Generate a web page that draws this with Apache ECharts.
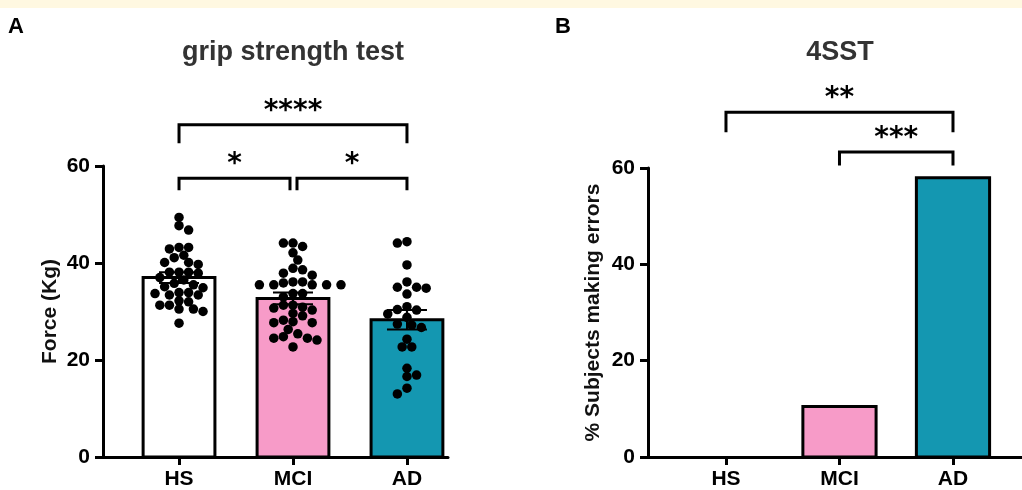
<!DOCTYPE html>
<html><head><meta charset="utf-8">
<script src="https://cdn.jsdelivr.net/npm/echarts@6/dist/echarts.min.js"></script>
<style>html,body{margin:0;padding:0;background:#fff;}#c{width:1022px;height:490px;}</style>
</head><body><div id="c"></div>
<script>
// ---------- data ----------
const categories = ['HS', 'MCI', 'AD'];
const gripHS = [49.4,47.7,46.8,43.2,43.2,42.9,41.6,41.1,40.1,40.1,39.7,38.1,38.1,37.9,38.1,37.0,35.5,36.5,35.8,34.9,35.1,33.4,33.7,33.9,33.4,32.0,32.2,31.3,31.3,30.5,30.0,30.5,27.6,33.9];
const gripMCI = [44.1,44.1,43.4,42.1,40.6,38.9,38.6,37.9,37.5,36.1,35.9,35.5,35.5,35.5,35.5,36.1,35.5,33.7,33.7,31.3,31.3,30.9,30.7,29.6,30.3,29.1,27.9,27.7,28.2,27.7,26.3,25.4,24.5,24.1,24.8,24.5,22.7,33.0];
const gripAD = [44.4,44.1,39.6,36.1,34.8,35.0,35.0,33.6,30.4,29.5,31.0,30.3,28.8,27.2,26.7,27.4,24.3,22.7,22.7,18.3,16.6,16.9,14.2,13.0];
const gripMean = [37.0, 32.7, 28.3];
const gripSEM = [1.1, 1.2, 2.0];
const errorPct = [0, 10.5, 58.0];
const yTicks = [0, 20, 40, 60];
const gripComparisons = [[0, 2, '****'], [0, 1, '*'], [1, 2, '*']];
const sstComparisons = [[0, 2, '**'], [1, 2, '***']];

// ---------- layout / style ----------
const FONT = 'Liberation Sans, Arial, sans-serif';
const barColors = ['#FFFFFF', '#F79BC8', '#1497B1'];
const gA = {left: 103, top: 166, width: 345, height: 291};
const gB = {left: 648, top: 168, width: 374, height: 289};
const xA = {min: -0.667, max: 2.36};
const xB = {min: -0.687, max: 2.608};
const barW = 0.63;
const DOT = 9.5;

const pxPerYA = gA.height / 60;
// simple beeswarm: spread dots sideways so they do not overlap
function swarmOffsets(vals, pxPerY, Dx, Dy, step) {
  const order = vals.map((v, i) => i).sort((a, b) => vals[b] - vals[a]);
  const placed = []; const off = new Array(vals.length).fill(0);
  let flip = 1;
  order.forEach(i => {
    const y = vals[i] * pxPerY;
    for (let k = 0; k < 60; k++) {
      const cands = k === 0 ? [0] : [flip * k * step, -flip * k * step];
      let found = null;
      for (const c of cands) {
        if (placed.every(p => ((p.x - c) / Dx) ** 2 + ((p.y - y) / Dy) ** 2 >= 1)) { found = c; break; }
      }
      if (found !== null) { off[i] = found; placed.push({x: found, y}); flip = -flip; break; }
    }
  });
  return off;
}
const pxPerXA = gA.width / (xA.max - xA.min);
const groups = [gripHS, gripMCI, gripAD];
const dotData = [];
groups.forEach((vals, g) => {
  const off = swarmOffsets(vals, pxPerYA, 9.6, 8, 4.8);
  vals.forEach((v, i) => dotData.push([g + off[i] / pxPerXA, v]));
});

function valueAxisY(gridIndex) {
  return {
    type: 'value', gridIndex, min: 0, max: 60, interval: 20,
    axisLine: {show: true, onZero: false, lineStyle: {color: '#000', width: 3}},
    axisTick: {show: true, length: 8, lineStyle: {color: '#000', width: 3}},
    axisLabel: {color: '#000', fontFamily: FONT, fontWeight: 'bold', fontSize: 21, margin: 13,
      customValues: yTicks},
    splitLine: {show: false}
  };
}
function catAxisX(gridIndex, r) {
  return {
    type: 'value', gridIndex, min: r.min, max: r.max,
    axisLine: {show: true, onZero: false, lineStyle: {color: '#000', width: 3}},
    axisTick: {show: true, length: 8, lineStyle: {color: '#000', width: 3}, customValues: [0, 1, 2]},
    axisLabel: {color: '#000', fontFamily: FONT, fontWeight: 'bold', fontSize: 21, margin: 12,
      customValues: [0, 1, 2], formatter: v => categories[Math.round(v)] || ''},
    splitLine: {show: false}
  };
}

function barSeries(xi, yi, values, w) {
  return {
    type: 'custom', xAxisIndex: xi, yAxisIndex: yi, z: 2,
    data: values.map((v, i) => [i, v]),
    renderItem(params, api) {
      const x = api.value(0), y = api.value(1);
      if (!(y > 0)) return null;
      const p0 = api.coord([x - w / 2, 0]), p1 = api.coord([x + w / 2, y]);
      return {type: 'rect', shape: {x: p0[0], y: p1[1], width: p1[0] - p0[0], height: p0[1] - p1[1]},
        style: {fill: barColors[params.dataIndex], stroke: '#000', lineWidth: 3}};
    }
  };
}

function bracketSeries(xi, yi, comps, levels, drops) {
  return {
    type: 'custom', xAxisIndex: xi, yAxisIndex: yi, z: 5, clip: false, silent: true,
    data: comps.map((c, i) => [c[0], c[1], i]),
    renderItem(params, api) {
      const c = comps[params.dataIndex];
      const lvl = levels[params.dataIndex], drop = drops[params.dataIndex];
      const pa = api.coord([c[0], lvl]), pb = api.coord([c[1], lvl]);
      const pd = api.coord([c[0], lvl - drop]);
      let xa = pa[0], xb = pb[0];
      comps.forEach((o, j) => {
        if (j === params.dataIndex || levels[j] !== lvl) return;
        if (o[0] === c[1]) xb -= 3;
        if (o[1] === c[0]) xa += 4;
      });
      return {type: 'group', children: [
        {type: 'polyline', shape: {points: [[xa, pd[1]], [xa, pa[1]], [xb, pa[1]], [xb, pd[1]]]},
          style: {stroke: '#000', lineWidth: 3, fill: null}},
        {type: 'text', style: {text: c[2], x: (xa + xb) / 2, y: pa[1] - 13, align: 'center', verticalAlign: 'middle',
          font: 'bold 28px "DejaVu Sans", sans-serif', fill: '#000'}}
      ]};
    }
  };
}

const chart = echarts.init(document.getElementById('c'), null, {renderer: 'canvas'});
chart.setOption({
  animation: false,
  backgroundColor: '#fff',
  grid: [
    Object.assign({containLabel: false}, gA),
    Object.assign({containLabel: false}, gB)
  ],
  xAxis: [catAxisX(0, xA), catAxisX(1, xB)],
  yAxis: [
    Object.assign(valueAxisY(0), {name: 'Force (Kg)', nameLocation: 'middle', nameGap: 42,
      nameTextStyle: {color: '#111', fontFamily: FONT, fontWeight: 'bold', fontSize: 21}}),
    Object.assign(valueAxisY(1), {name: '% Subjects making errors', nameLocation: 'middle', nameGap: 44,
      nameTextStyle: {color: '#111', fontFamily: FONT, fontWeight: 'bold', fontSize: 21}})
  ],
  graphic: [
    {type: 'rect', left: 0, top: 0, shape: {width: 1022, height: 8}, style: {fill: '#FFF8E1'}, silent: true},
    {type: 'text', x: 8, y: 27, style: {text: 'A', font: 'bold 22px ' + FONT, fill: '#000', verticalAlign: 'middle'}},
    {type: 'text', x: 555, y: 27, style: {text: 'B', font: 'bold 22px ' + FONT, fill: '#000', verticalAlign: 'middle'}},
    {type: 'text', x: 293, y: 53, style: {text: 'grip strength test', font: 'bold 27px ' + FONT, fill: '#333', align: 'center', verticalAlign: 'middle'}},
    {type: 'text', x: 840, y: 53, style: {text: '4SST', font: 'bold 27px ' + FONT, fill: '#333', align: 'center', verticalAlign: 'middle'}}
  ],
  series: [
    barSeries(0, 0, gripMean, barW),
    {
      type: 'custom', xAxisIndex: 0, yAxisIndex: 0, z: 3,
      data: gripMean.map((m, i) => [i, m, gripSEM[i]]),
      renderItem(params, api) {
        const x = api.value(0), m = api.value(1), s = api.value(2);
        const top = api.coord([x, m + s]), bot = api.coord([x, m - s]);
        const hw = 20;
        return {type: 'group', children: [
          {type: 'line', shape: {x1: top[0], y1: top[1], x2: bot[0], y2: bot[1]}, style: {stroke: '#000', lineWidth: 2}},
          {type: 'line', shape: {x1: top[0] - hw, y1: top[1], x2: top[0] + hw, y2: top[1]}, style: {stroke: '#000', lineWidth: 2}},
          {type: 'line', shape: {x1: bot[0] - hw, y1: bot[1], x2: bot[0] + hw, y2: bot[1]}, style: {stroke: '#000', lineWidth: 2}}
        ]};
      }
    },
    {
      type: 'scatter', xAxisIndex: 0, yAxisIndex: 0, z: 4,
      symbol: 'circle', symbolSize: DOT, itemStyle: {color: '#000', opacity: 1},
      data: dotData
    },
    bracketSeries(0, 0, gripComparisons, [68.5, 57.5, 57.5], [3.8, 2.5, 2.5]),
    barSeries(1, 1, errorPct, 0.645),
    bracketSeries(1, 1, sstComparisons, [71.6, 63.3], [4.2, 2.8])
  ]
});
</script>
</body></html>
